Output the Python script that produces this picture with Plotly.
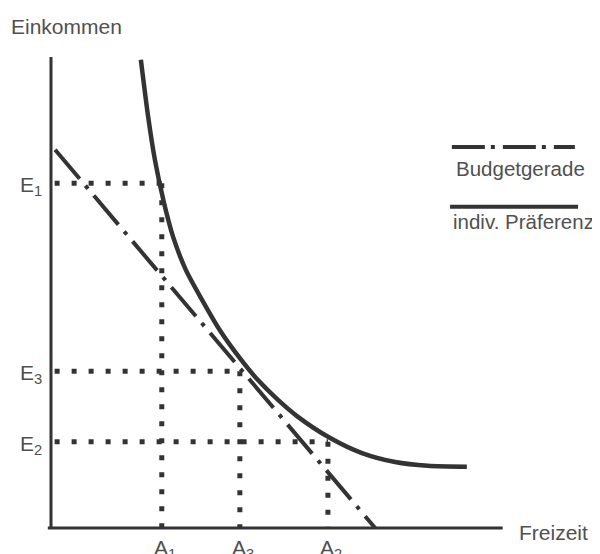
import plotly.graph_objects as go

# Achsenwerte (willkuerliche Einheiten, Achsen enden bei 10)
A_VALUES = [2.44, 4.16, 6.10]       # A1, A3, A2
E_VALUES = [7.32, 3.33, 1.83]       # E1, E3, E2
A_LABELS = ["A<sub>1</sub>", "A<sub>3</sub>", "A<sub>2</sub>"]
E_LABELS = ["E<sub>1</sub>", "E<sub>3</sub>", "E<sub>2</sub>"]

# Budgetgerade
budget_x = [0.09, 7.14]
budget_y = [8.03, 0.0]

# Indifferenzkurve (individuelle Praeferenz)
curve_x = [1.98, 2.14, 2.29, 2.49, 2.69, 2.97, 3.33, 3.72, 4.19, 4.56,
           5.00, 5.44, 6.15, 6.85, 7.58, 8.30, 9.16]
curve_y = [9.94, 8.73, 7.81, 6.90, 6.18, 5.48, 4.84, 4.20, 3.57, 3.14,
           2.72, 2.36, 1.91, 1.59, 1.40, 1.32, 1.30]

LINE = "#333333"
TEXT = "#505050"
FONT = "Liberation Sans, Arial, sans-serif"
DOTS = "5px,12px"
DASHDOT = "38px,9px,4px,9px"

fig = go.Figure()

# Achsen
fig.add_trace(go.Scatter(x=[0, 0], y=[-0.02, 10], mode="lines",
                         line=dict(color=LINE, width=3)))
fig.add_trace(go.Scatter(x=[-0.07, 9.95], y=[0, 0], mode="lines",
                         line=dict(color=LINE, width=3)))

# gepunktete Hilfslinien
for a, e in zip(A_VALUES, E_VALUES):
    fig.add_trace(go.Scatter(x=[0.08, a], y=[e, e], mode="lines",
                             line=dict(color=LINE, width=5, dash=DOTS)))
    fig.add_trace(go.Scatter(x=[a, a], y=[e, 0], mode="lines",
                             line=dict(color=LINE, width=5, dash=DOTS)))

# Budgetgerade
fig.add_trace(go.Scatter(x=budget_x, y=budget_y, mode="lines",
                         line=dict(color=LINE, width=4, dash=DASHDOT)))

# Indifferenzkurve
fig.add_trace(go.Scatter(x=curve_x, y=curve_y, mode="lines",
                         line=dict(color=LINE, width=4.5, shape="spline",
                                   smoothing=0.8)))

# Legende
fig.add_trace(go.Scatter(x=[8.83, 11.54], y=[8.09, 8.09], mode="lines",
                         line=dict(color=LINE, width=4, dash="33px,6px,4px,8px")))
fig.add_trace(go.Scatter(x=[8.79, 11.61], y=[6.82, 6.82], mode="lines",
                         line=dict(color=LINE, width=4)))

annotations = [
    dict(x=-0.92, y=10.64, text="Einkommen", xanchor="left", size=21),
    dict(x=10.27, y=-0.085, text="Freizeit", xanchor="left", size=21),
    dict(x=8.88, y=7.64, text="Budgetgerade", xanchor="left", size=20.5),
    dict(x=8.80, y=6.50, text="indiv. Präferenz", xanchor="left", size=20.5),
]
for lab, e in zip(E_LABELS, E_VALUES):
    annotations.append(dict(x=-0.44, y=e, text=lab, xanchor="center",
                            yshift=-3, size=21))
for lab, a in zip(A_LABELS, A_VALUES):
    annotations.append(dict(x=a, y=-0.45, text=lab, xanchor="center",
                            xshift=3, size=21))

for ann in annotations:
    size = ann.pop("size")
    ann.update(showarrow=False, yanchor="middle",
               font=dict(family=FONT, size=size, color=TEXT))

# Seite hat 8px Rand, daher 592x546 und Bereich ab Bildschirm-Pixel 8
fig.update_layout(
    width=592,
    height=546,
    margin=dict(l=0, r=0, t=0, b=0),
    paper_bgcolor="white",
    plot_bgcolor="white",
    showlegend=False,
    annotations=annotations,
    xaxis=dict(visible=False, range=[-0.947, 12.093]),
    yaxis=dict(visible=False, range=[-0.552, 11.040]),
)

fig.write_html("out.html")
